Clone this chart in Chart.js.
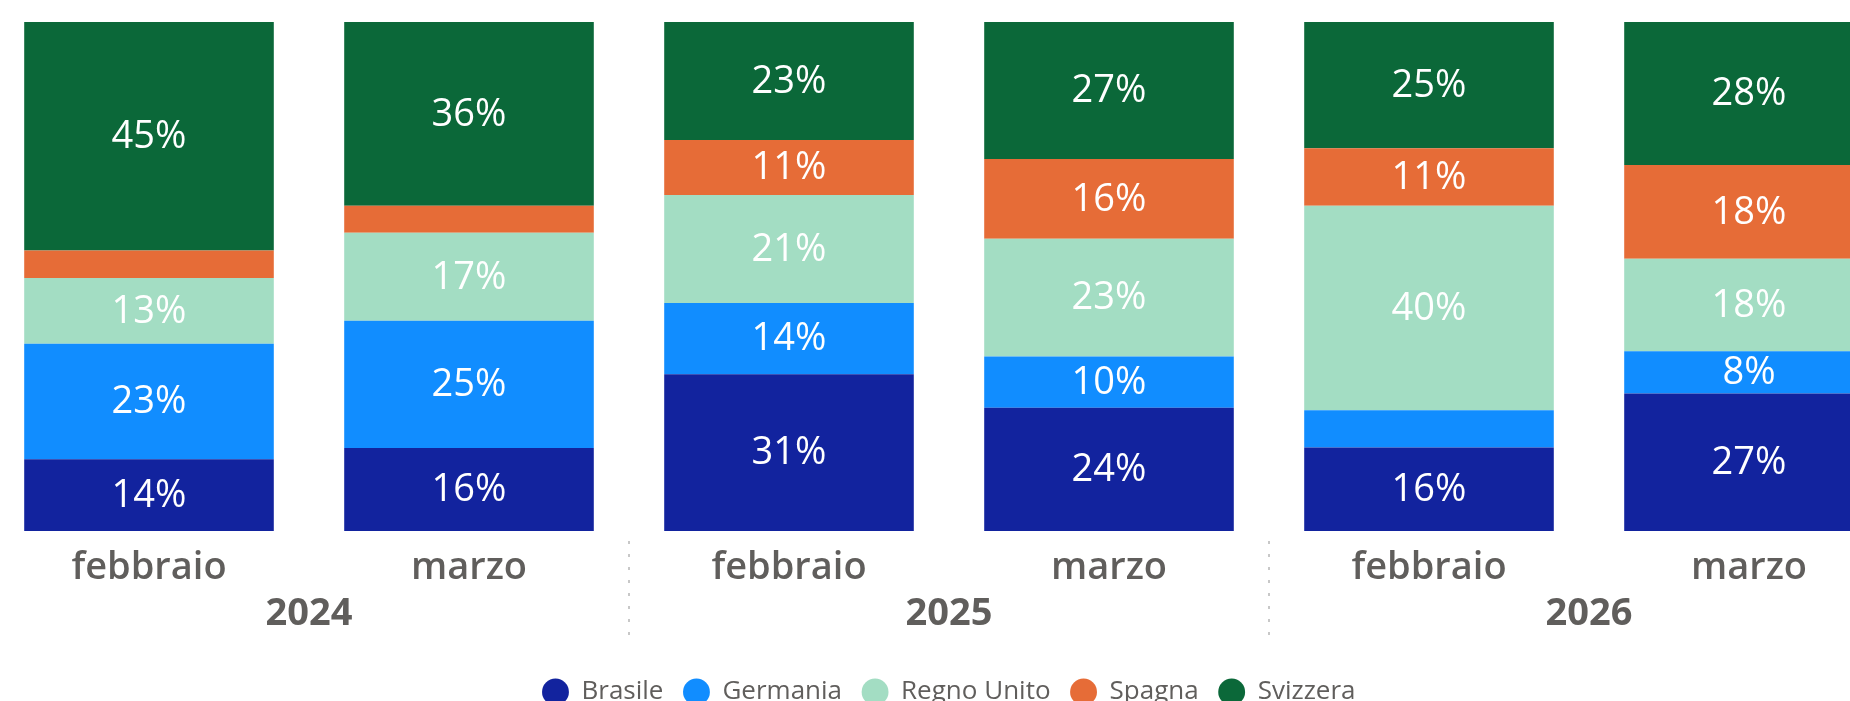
<!DOCTYPE html>
<html>
<head>
<meta charset="utf-8">
<script src="https://cdn.jsdelivr.net/npm/chart.js@4"></script>
<style>
  html, body { margin: 0; padding: 0; background: #fff; overflow: hidden; }
  #wrap { position: absolute; left: -11px; top: 0; width: 1920px; height: 715px; }
</style>
</head>
<body>
<div id="wrap"><canvas id="chart"></canvas></div>
<script>
// categories
const months = ['febbraio', 'marzo', 'febbraio', 'marzo', 'febbraio', 'marzo'];
const years = ['2024', '2025', '2026'];

// share per country (%)
const brasile    = [14.1, 16.3, 30.8, 24.2, 16.4, 27.0];
const germania   = [22.7, 25.0, 14.0, 10.1,  7.3,  8.3];
const regnoUnito = [12.9, 17.3, 21.2, 23.1, 40.2, 18.2];
const spagna     = [ 5.4,  5.3, 10.8, 15.7, 11.3, 18.4];
const svizzera   = [44.9, 36.1, 23.2, 26.9, 24.8, 28.1];

const GRAY = '#605E5C';
const FONT = "'Open Sans', 'DejaVu Sans', sans-serif";

// labels inside the segments, hidden on thin ones
const segmentLabels = {
    id: 'segmentLabels',
    afterDatasetsDraw(chart) {
        const ctx = chart.ctx;
        ctx.save();
        ctx.font = '38px ' + FONT;
        ctx.fillStyle = '#ffffff';
        ctx.textAlign = 'center';
        ctx.textBaseline = 'middle';
        chart.data.datasets.forEach((ds, i) => {
            const meta = chart.getDatasetMeta(i);
            meta.data.forEach((bar, j) => {
                const v = ds.data[j];
                if (v < 8) return;
                ctx.fillText(Math.round(v) + '%', bar.x, (bar.y + bar.base) / 2 + 1);
            });
        });
        ctx.restore();
    }
};

// dotted separators between the year groups
const groupSeparators = {
    id: 'groupSeparators',
    afterDraw(chart) {
        const xs = chart.scales.x;
        const ctx = chart.ctx;
        const bottom = chart.chartArea.bottom;
        ctx.save();
        ctx.strokeStyle = '#c8c8c8';
        ctx.lineWidth = 2;
        ctx.setLineDash([3, 10]);
        [2, 4].forEach(i => {
            const x = Math.round((xs.getPixelForValue(i - 1) + xs.getPixelForValue(i)) / 2);
            ctx.beginPath();
            ctx.moveTo(x, bottom + 10);
            ctx.lineTo(x, bottom + 108);
            ctx.stroke();
        });
        ctx.restore();
    }
};

const series = [
    { label: 'Brasile', data: brasile, color: '#12239E' },
    { label: 'Germania', data: germania, color: '#118DFF' },
    { label: 'Regno Unito', data: regnoUnito, color: '#A3DDC3' },
    { label: 'Spagna', data: spagna, color: '#E66C37' },
    { label: 'Svizzera', data: svizzera, color: '#0B6839' }
];

new Chart(document.getElementById('chart').getContext('2d'), {
    type: 'bar',
    data: {
        labels: months,
        datasets: series.map(s => ({
            label: s.label,
            data: s.data,
            backgroundColor: s.color,
            borderWidth: 0,
            barPercentage: 0.78,
            categoryPercentage: 1.0
        }))
    },
    options: {
        responsive: true,
        maintainAspectRatio: false,
        animation: false,
        layout: { padding: { top: 22, left: 0, right: 0, bottom: 0 } },
        scales: {
            x: {
                stacked: true,
                grid: { display: false, drawTicks: false },
                border: { display: false },
                ticks: {
                    color: GRAY,
                    padding: 14,
                    maxRotation: 0,
                    autoSkip: false,
                    font: { family: FONT, size: 38, weight: '600' }
                },
                afterFit(scale) {
                    scale.height = 60;
                }
            },
            x2: {
                type: 'category',
                labels: years,
                position: 'bottom',
                offset: true,
                grid: { display: false, drawTicks: false },
                border: { display: false },
                ticks: {
                    color: GRAY,
                    padding: 0,
                    maxRotation: 0,
                    font: { family: FONT, size: 38, weight: 'bold' }
                },
                afterFit(scale) {
                    scale.height = 68;
                }
            },
            y: {
                stacked: true,
                display: false,
                min: 0,
                max: 100
            }
        },
        plugins: {
            legend: {
                position: 'bottom',
                labels: {
                    usePointStyle: true,
                    pointStyle: 'circle',
                    boxWidth: 27,
                    boxHeight: 19,
                    padding: 20,
                    color: GRAY,
                    font: { family: FONT, size: 26 }
                }
            },
            tooltip: { enabled: false }
        }
    },
    plugins: [segmentLabels, groupSeparators]
});
</script>
</body>
</html>
